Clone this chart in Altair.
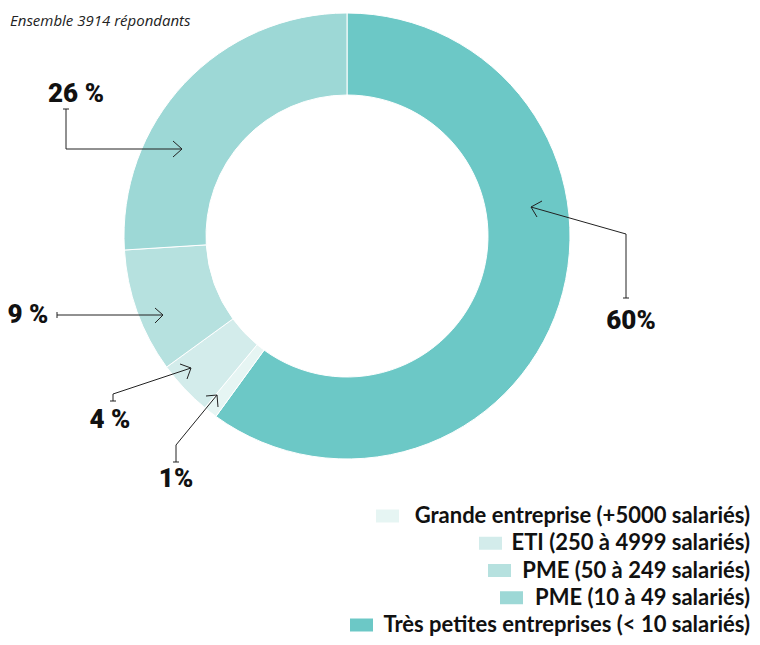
import altair as alt
import pandas as pd

# ---- data ----
categories = [
    "Très petites entreprises (< 10 salariés)",
    "Grande entreprise (+5000 salariés)",
    "ETI (250 à 4999 salariés)",
    "PME (50 à 249 salariés)",
    "PME (10 à 49 salariés)",
]
values = [60, 1, 4, 9, 26]
labels = ["60%", "1%", "4 %", "9 %", "26 %"]
colors = ["#6CC8C6", "#E6F5F3", "#D3ECEB", "#B6E1DF", "#9DD8D6"]
legend_order = [
    "Grande entreprise (+5000 salariés)",
    "ETI (250 à 4999 salariés)",
    "PME (50 à 249 salariés)",
    "PME (10 à 49 salariés)",
    "Très petites entreprises (< 10 salariés)",
]
title_text = "Ensemble 3914 répondants"

df = pd.DataFrame({"category": categories, "value": values,
                   "idx": list(range(len(categories)))})

# ---- layout (page coords -> view coords, page margin 8px) ----
OFF = 8
def P(x, y):
    return x - OFF, y - OFF

CX, CY = P(347, 236)
R_OUT, R_IN = 223, 141

layers = []

donut = alt.Chart(df).mark_arc(
    innerRadius=R_IN, outerRadius=R_OUT, stroke="white", strokeWidth=1
).encode(
    theta=alt.Theta("value:Q", stack=True),
    color=alt.Color("category:N", scale=alt.Scale(domain=categories, range=colors), legend=None),
    order=alt.Order("idx:Q"),
    x=alt.value(CX), y=alt.value(CY),
)
layers.append(donut)

one = alt.Data(values=[{"k": 1}])

def seg(p1, p2, color="#222222"):
    (x1, y1), (x2, y2) = P(*p1), P(*p2)
    return alt.Chart(one).mark_rule(color=color, strokeWidth=1).encode(
        x=alt.value(x1), y=alt.value(y1), x2=alt.value(x2), y2=alt.value(y2))

# annotation arrows: polyline + start tick + chevron head
arrows = [
    dict(pts=[(66, 109), (66, 149), (182, 149)], tick=((63, 109), (69, 109)),
         head=[(173, 141), (173, 157)]),
    dict(pts=[(57, 315), (163, 315)], tick=((57, 312), (57, 318)),
         head=[(155, 308), (155, 323)]),
    dict(pts=[(113, 401), (113, 394), (191, 368)], tick=((110, 401), (116, 401)),
         head=[(180, 364), (187, 379)]),
    dict(pts=[(176, 462), (176, 445), (217, 395)], tick=((173, 462), (179, 462)),
         head=[(206, 396), (218, 407)]),
    dict(pts=[(626, 298), (626, 234), (531, 207)], tick=((623, 298), (629, 298)),
         head=[(542, 201), (537, 217)]),
]
for a in arrows:
    pts = a["pts"]
    for p1, p2 in zip(pts[:-1], pts[1:]):
        layers.append(seg(p1, p2))
    layers.append(seg(*a["tick"]))
    tip = pts[-1]
    for h in a["head"]:
        layers.append(seg(h, tip))

# percent labels (center x, baseline y in page coords)
label_pos = {"60%": (631, 329), "1%": (176, 487), "4 %": (110, 428),
             "9 %": (28, 323), "26 %": (76, 102)}
for lab in labels:
    x, y = P(*label_pos[lab])
    layers.append(alt.Chart(one).mark_text(
        text=lab, font="Roboto", fontWeight=900, fontSize=26,
        align="center", baseline="alphabetic", color="#111111"
    ).encode(x=alt.value(x), y=alt.value(y)))

# title
tx, ty = P(10, 26)
layers.append(alt.Chart(one).mark_text(
    text=title_text, font="Open Sans", fontStyle="italic", fontSize=15,
    align="left", baseline="alphabetic", color="#222222"
).encode(x=alt.value(tx), y=alt.value(ty)))

# legend: right-aligned labels with a swatch just left of each
RIGHT = 750
leg_df = pd.DataFrame({"category": legend_order})
row_y = [516, 543.25, 570.5, 597.75, 625]
y0, y1 = row_y[0] - OFF, row_y[-1] - OFF
layers.append(alt.Chart(leg_df).mark_text(
    font="Lato", fontWeight="bold", fontSize=22, align="right", baseline="middle",
    color="#111111"
).encode(
    x=alt.value(RIGHT - OFF),
    y=alt.Y("category:N", scale=alt.Scale(type="point", domain=legend_order,
                                          range=[y0, y1], padding=0), axis=None),
    text="category:N",
))
swatch_left = {
    "Grande entreprise (+5000 salariés)": 376,
    "ETI (250 à 4999 salariés)": 479,
    "PME (50 à 249 salariés)": 488,
    "PME (10 à 49 salariés)": 500,
    "Très petites entreprises (< 10 salariés)": 350,
}
for cat, yy in zip(legend_order, row_y):
    xl = swatch_left[cat] - OFF
    yc = yy - OFF
    layers.append(alt.Chart(one).mark_rect(
        color=colors[categories.index(cat)]
    ).encode(x=alt.value(xl), x2=alt.value(xl + 23),
             y=alt.value(yc - 6.5), y2=alt.value(yc + 6.5)))

chart = alt.layer(*layers).properties(
    width=744, height=629,
    autosize=alt.AutoSizeParams(type="none"),
    padding=0,
).configure_view(stroke=None)

chart.save("out.html", embed_options={"renderer": "svg", "actions": False})
